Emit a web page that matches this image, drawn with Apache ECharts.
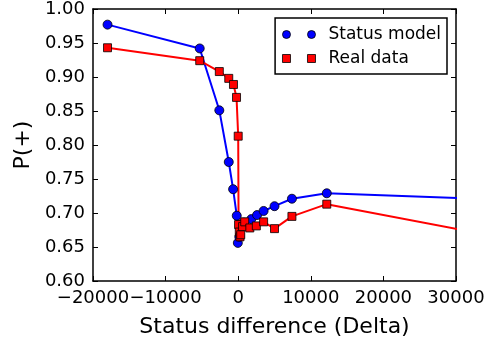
<!DOCTYPE html>
<html>
<head>
<meta charset="utf-8">
<script src="https://cdn.jsdelivr.net/npm/echarts@6/dist/echarts.min.js"></script>
<style>html,body{margin:0;padding:0;background:#fff}#c{width:489px;height:347px}</style>
</head>
<body>
<div id="c"></div>
<script>
// Status model
const modelX = [-18000, -5300, -2600, -1300, -700, -200, -50, 150, 400, 800, 1800, 2600, 3500, 5000, 7400, 12200, 45000];
const modelY = [0.977, 0.942, 0.851, 0.775, 0.735, 0.696, 0.656, 0.665, 0.680, 0.686, 0.691, 0.697, 0.703, 0.710, 0.721, 0.729, 0.716];
// Real data
const realX = [-18000, -5300, -2600, -1300, -650, -230, 0, 50, 150, 250, 350, 600, 900, 1600, 2500, 3500, 5000, 7400, 12200, 45000];
const realY = [0.943, 0.924, 0.908, 0.898, 0.889, 0.870, 0.813, 0.683, 0.672, 0.665, 0.668, 0.680, 0.687, 0.678, 0.681, 0.687, 0.677, 0.695, 0.713, 0.646];
const seriesNames = ['Status model', 'Real data'];
const xTitle = 'Status difference (Delta)';
const yTitle = 'P(+)';

const font = 'DejaVu Sans';
const zip = (a, b) => a.map((v, i) => [v, b[i]]);
const twoDots = 'path://M0,4a4,4 0 1,0 8,0a4,4 0 1,0 -8,0M25,4a4,4 0 1,0 8,0a4,4 0 1,0 -8,0';
const twoSquares = 'path://M0,0h8v8h-8zM25,0h8v8h-8z';

const axisLineStyle = {color: '#000', width: 1.5};
const chart = echarts.init(document.getElementById('c'));
chart.setOption({
  animation: false,
  grid: {left: 93, right: 33, top: 9, bottom: 66},
  legend: {
    top: 18, right: 42, orient: 'vertical',
    backgroundColor: '#fff', borderColor: '#000', borderWidth: 1.5, borderRadius: 0,
    padding: [8, 6, 7, 7], itemGap: 7, itemWidth: 33, itemHeight: 8,
    textStyle: {fontFamily: font, fontSize: 17, color: '#000', padding: [0, 0, 0, 8]},
    data: [
      {name: seriesNames[0], icon: twoDots, itemStyle: {color: '#0000ff', borderColor: '#000', borderWidth: 0.8}},
      {name: seriesNames[1], icon: twoSquares, itemStyle: {color: '#ff0000', borderColor: '#000', borderWidth: 0.8}}
    ]
  },
  xAxis: [{
    type: 'value', min: -20000, max: 30000, interval: 10000, position: 'bottom',
    axisLine: {show: true, onZero: false, lineStyle: axisLineStyle},
    axisTick: {show: true, inside: true, length: 5, lineStyle: {color: '#000'}},
    axisLabel: {fontFamily: font, fontSize: 18, color: '#000', margin: 8, hideOverlap: false,
      formatter: v => String(v).replace('-', '\u2212')},
    splitLine: {show: false},
    name: xTitle, nameLocation: 'middle', nameGap: 35,
    nameTextStyle: {fontFamily: font, fontSize: 22, color: '#000'}
  }, {
    type: 'value', min: -20000, max: 30000, interval: 10000, position: 'top',
    axisLine: {show: true, onZero: false, lineStyle: axisLineStyle},
    axisTick: {show: true, inside: true, length: 5, lineStyle: {color: '#000'}},
    axisLabel: {show: false}, splitLine: {show: false}
  }],
  yAxis: [{
    type: 'value', min: 0.6, max: 1.0, interval: 0.05, position: 'left',
    axisLine: {show: true, onZero: false, lineStyle: axisLineStyle},
    axisTick: {show: true, inside: true, length: 5, lineStyle: {color: '#000'}},
    axisLabel: {fontFamily: font, fontSize: 18, color: '#000', margin: 8,
      formatter: v => v.toFixed(2)},
    splitLine: {show: false},
    name: yTitle, nameLocation: 'middle', nameGap: 57, nameRotate: 90,
    nameTextStyle: {fontFamily: font, fontSize: 22, color: '#000'}
  }, {
    type: 'value', min: 0.6, max: 1.0, interval: 0.05, position: 'right',
    axisLine: {show: true, onZero: false, lineStyle: axisLineStyle},
    axisTick: {show: true, inside: true, length: 5, lineStyle: {color: '#000'}},
    axisLabel: {show: false}, splitLine: {show: false}
  }],
  series: [{
    name: seriesNames[0], type: 'line', data: zip(modelX, modelY), clip: true,
    symbol: 'circle', symbolSize: 9, showAllSymbol: true,
    lineStyle: {color: '#0000ff', width: 2},
    itemStyle: {color: '#0000ff', borderColor: '#000', borderWidth: 0.8}
  }, {
    name: seriesNames[1], type: 'line', data: zip(realX, realY), clip: true,
    symbol: 'rect', symbolSize: 8, showAllSymbol: true,
    lineStyle: {color: '#ff0000', width: 2},
    itemStyle: {color: '#ff0000', borderColor: '#000', borderWidth: 0.8}
  }]
});
</script>
</body>
</html>
